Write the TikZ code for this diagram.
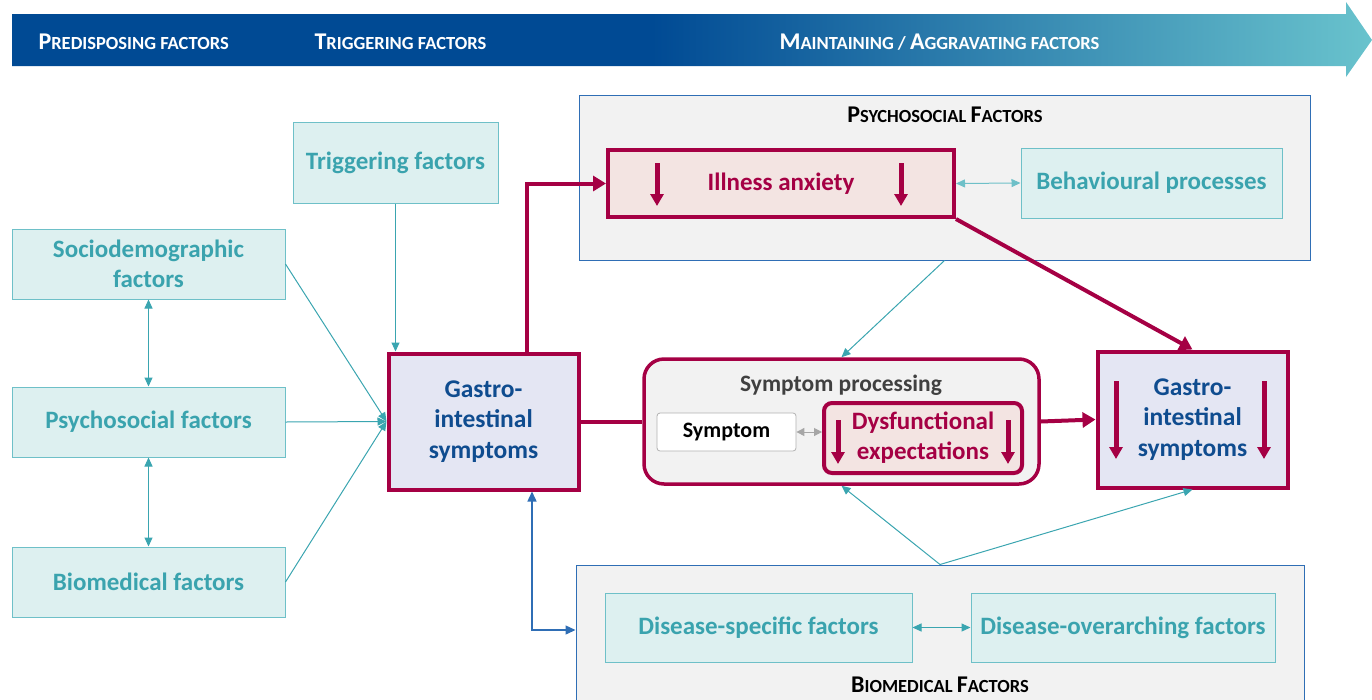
\documentclass[tikz,border=0pt]{standalone}
\usepackage{fontspec}
\setmainfont{Carlito}
\usetikzlibrary{arrows.meta}

\definecolor{crim}{RGB}{165,0,68}
\definecolor{tealtext}{RGB}{58,163,174}
\definecolor{tealfill}{RGB}{221,240,240}
\definecolor{tealline}{RGB}{110,192,200}
\definecolor{tealarrow}{RGB}{58,165,176}
\definecolor{lavfill}{RGB}{228,230,243}
\definecolor{gitext}{RGB}{15,76,143}
\definecolor{pinkfill}{RGB}{243,228,226}
\definecolor{panelfill}{RGB}{242,242,242}
\definecolor{panelline}{RGB}{47,110,181}
\definecolor{hdblue}{RGB}{0,74,148}
\definecolor{hdteal}{RGB}{105,195,205}
\definecolor{darkgrey}{RGB}{64,64,64}

\pgfdeclarehorizontalshading{hdshade}{100bp}{color(0bp)=(hdblue); color(25bp)=(hdblue);
    color(48.5bp)=(hdblue); color(75bp)=(hdteal); color(100bp)=(hdteal)}

% fake small caps: first letters larger
\newcommand\bigcapl[1]{{\fontsize{24pt}{24pt}\selectfont #1}}

\begin{document}
\begin{tikzpicture}[x=1pt,y=-1pt,
    factor/.style={draw=tealline, fill=tealfill, text=tealtext, line width=1pt,
        font=\bfseries\fontsize{25pt}{30pt}\selectfont, align=center, inner sep=0pt},
    gibox/.style={draw=crim, fill=lavfill, text=gitext, line width=4pt,
        font=\bfseries\fontsize{25.5pt}{30.5pt}\selectfont, align=center, inner sep=0pt,
        minimum width=190pt, minimum height=136pt},
    redbox/.style={draw=crim, fill=pinkfill, text=crim, line width=4pt,
        font=\bfseries\fontsize{25pt}{30pt}\selectfont, align=center, inner sep=0pt},
    panel/.style={draw=panelline, fill=panelfill, line width=1pt, inner sep=0pt},
    paneltitle/.style={font=\bfseries\fontsize{18.5pt}{18.5pt}\selectfont, text=black},
    hdtext/.style={font=\bfseries\fontsize{18.5pt}{18.5pt}\selectfont, text=white, anchor=west},
    tealarr/.style={draw=tealarrow, line width=1pt, -{Triangle[length=9pt,width=8pt]}},
    tealdbl/.style={draw=tealarrow, line width=1pt, {Triangle[length=9pt,width=8pt]}-{Triangle[length=9pt,width=8pt]}},
    crimarr/.style={draw=crim, line width=4pt, -{Triangle[length=13pt,width=15pt]}},
    crimline/.style={draw=crim, line width=4pt},
    downarr/.style={draw=crim, line width=5pt, -{Triangle[length=12pt,width=13pt]}},
    bluedbl/.style={draw=panelline, line width=1.4pt, {Triangle[length=10pt,width=9pt]}-{Triangle[length=10pt,width=9pt]}}]
    \useasboundingbox (0,0) rectangle (1372,699);

    % header arrow
    \shade[shading=hdshade] (12,14) -- (1346,14) -- (1346,2) -- (1372,40) -- (1346,77)
        -- (1346,66) -- (12,66) -- cycle;
    \node[hdtext] (hpre) at (35,42) {\bigcapl{P}REDISPOSING FACTORS};
    \node[hdtext] (htrig) at (311,42) {\bigcapl{T}RIGGERING FACTORS};
    \node[hdtext] (hmain) at (776,42) {\bigcapl{M}AINTAINING / \bigcapl{A}GGRAVATING FACTORS};

    % panels
    \node[panel, minimum width=731pt, minimum height=165pt] (psybox) at (944.5,177.5) {};
    \node[paneltitle] (psytitle) at (945,115) {\bigcapl{P}SYCHOSOCIAL \bigcapl{F}ACTORS};
    \node[panel, minimum width=728pt, minimum height=140pt] (biobox) at (940,635) {};
    \node[paneltitle] (biotitle) at (940,685) {\bigcapl{B}IOMEDICAL \bigcapl{F}ACTORS};

    % predisposing and triggering factors
    \node[factor, minimum width=273pt, minimum height=70pt] (socio) at (148.5,264) {Sociodemographic\\factors};
    \node[factor, minimum width=273pt, minimum height=70pt] (psyc) at (148.5,422) {Psychosocial factors};
    \node[factor, minimum width=273pt, minimum height=70pt] (bio) at (148.5,582) {Biomedical factors};
    \node[factor, minimum width=205pt, minimum height=81pt] (trig) at (395.5,162.5) {Triggering factors};

    % symptoms
    \node[gibox] (gil) at (483.5,421.5) {Gastro-\\intestinal\\symptoms};
    \node[gibox] (gir) at (1192.5,419.5) {Gastro-\\intestinal\\symptoms};

    % maintaining factors
    \node[redbox, minimum width=346pt, minimum height=67pt] (anx) at (781,183.5) {Illness anxiety};
    \node[factor, minimum width=261pt, minimum height=70pt] (beh) at (1151.5,183) {Behavioural processes};
    \node[draw=crim, fill=panelfill, line width=3.5pt, rounded corners=20pt,
        minimum width=395pt, minimum height=125pt] (sp) at (841.5,421.5) {};
    \node[font=\bfseries\fontsize{23.5pt}{23.5pt}\selectfont, text=darkgrey] (sptitle) at (841,385) {Symptom processing};
    \node[draw=gray!60, fill=white, rounded corners=3pt, line width=0.8pt, inner sep=0pt,
        minimum width=139pt, minimum height=38pt, font=\bfseries\fontsize{22pt}{22pt}\selectfont] (sym) at (726.5,432) {Symptom};
    \node[redbox, rounded corners=8pt, minimum width=198pt, minimum height=70pt] (dys) at (923,438) {Dysfunctional\\expectations};
    \node[factor, minimum width=307pt, minimum height=69pt] (dspec) at (758.5,627.5) {Disease-specific factors};
    \node[factor, minimum width=304pt, minimum height=69pt] (dover) at (1123,627.5) {Disease-overarching factors};

    % down arrows inside boxes
    \draw[downarr] (657,163) -- (657,206);
    \draw[downarr] (901,163) -- (901,206);
    \draw[downarr] (838,420) -- (838,464);
    \draw[downarr] (1008,420) -- (1008,464);
    \draw[downarr] (1116,381) -- (1116,459);
    \draw[downarr] (1264,381) -- (1264,459);

    % connectors
    \draw[tealdbl] (socio) -- (psyc);
    \draw[tealdbl] (psyc) -- (bio);
    \draw[tealarr] (socio.east) -- (gil.west);
    \draw[tealarr] (psyc.east) -- (gil.west);
    \draw[tealarr] (bio.east) -- (gil.west);
    \draw[tealarr] (trig.south) -- (trig.south |- gil.north);
    \draw[crimarr] ([xshift=43.5pt]gil.north) |- (anx.west);
    \draw[crimline] (gil.east) -- (sp.west);
    \draw[crimarr] (sp.east) -- (gir.west);
    \draw[crimarr] (anx.south east) -- (gir.north);
    \draw[draw=tealline, line width=1pt, {Triangle[length=9pt,width=8pt]}-{Triangle[length=9pt,width=8pt]}] (anx.east) -- (beh.west);
    \draw[draw=gray!70, line width=1pt, {Triangle[length=8pt,width=8pt]}-{Triangle[length=8pt,width=8pt]}] (sym.east) -- (dys.west |- sym.east);
    \draw[tealdbl] (dspec.east) -- (dover.west);
    \draw[tealarr] (psybox.south) -- (sp.north);
    \draw[tealarr] (biobox.north) -- (sp.south);
    \draw[tealarr] (biobox.north) -- (gir.south);
    \draw[bluedbl] ([xshift=48.5pt]gil.south) |- ([yshift=5pt]biobox.west);
\end{tikzpicture}
\end{document}
